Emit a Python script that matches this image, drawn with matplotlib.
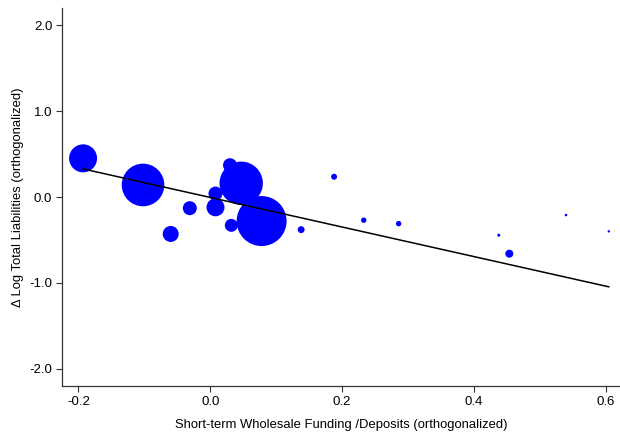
import matplotlib
matplotlib.use("Agg")
import matplotlib.pyplot as plt
import numpy as np

plt.rcParams['font.family'] = ['Liberation Sans', 'DejaVu Sans']

# Orthogonalized short-term wholesale funding / deposits
x_vals = [-0.193, -0.102, -0.060, -0.031, 0.008, 0.008, 0.030, 0.047, 0.032, 0.078,
          0.138, 0.188, 0.233, 0.286, 0.438, 0.454, 0.540, 0.605]
# Orthogonalized change in log total liabilities
y_vals = [0.45, 0.14, -0.43, -0.13, -0.12, 0.04, 0.37, 0.16, -0.33, -0.28,
          -0.38, 0.236, -0.27, -0.31, -0.445, -0.66, -0.21, -0.40]
# Observation weights (bubble area)
weights = [196, 454, 64, 49, 81, 49, 49, 470, 42, 625,
           12, 9, 7.3, 7.3, 2.3, 16, 1.7, 1.4]

# Fitted line
fit_intercept = -0.005
fit_slope = -1.72

x_ticks = [-0.2, 0.0, 0.2, 0.4, 0.6]
x_tick_labels = ["-0.2", "0.0", "0.2", "0.4", "0.6"]
y_ticks = [-2.0, -1.0, 0.0, 1.0, 2.0]
y_tick_labels = ["-2.0", "-1.0", "0.0", "1.0", "2.0"]

fig = plt.figure(figsize=(6.2, 4.33), dpi=100)
ax = fig.add_axes([62 / 620, 47 / 433, 558 / 620, 378 / 433])

sizes = np.array(weights) * (2 * 0.72) ** 2
ax.scatter(x_vals, y_vals, s=sizes, color="#0000ff", edgecolors="none", zorder=2)

xs = np.array([min(x_vals), max(x_vals)])
ax.plot(xs, fit_intercept + fit_slope * xs, color="black", lw=1.1, zorder=3)

ax.set_xlim(-0.225, 0.622)
ax.set_ylim(-2.2, 2.2)
ax.set_xticks(x_ticks)
ax.set_xticklabels(x_tick_labels)
ax.set_yticks(y_ticks)
ax.set_yticklabels(y_tick_labels)

for side in ("top", "right"):
    ax.spines[side].set_visible(False)
for side in ("left", "bottom"):
    ax.spines[side].set_color("#333333")
    ax.spines[side].set_linewidth(0.9)

ax.tick_params(axis="both", direction="out", length=4, width=0.8, color="#333333",
               labelsize=9.5, labelcolor="black", pad=3)

ax.set_xlabel("Short-term Wholesale Funding /Deposits (orthogonalized)", fontsize=9.4, labelpad=8)
ax.set_ylabel("\u0394 Log Total Liabilities (orthogonalized)", fontsize=9.4, labelpad=4)

fig.savefig("out.png", dpi=100)
